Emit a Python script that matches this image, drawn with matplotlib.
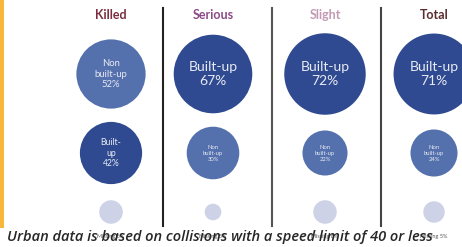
import numpy as np
import matplotlib
matplotlib.use("Agg")
import matplotlib.pyplot as plt
from matplotlib.patches import Circle, Rectangle

# data
panels = ['Killed', 'Serious', 'Slight', 'Total']
built_up = [42, 67, 72, 71]
non_built_up = [52, 30, 22, 24]
missing = [6, 3, 6, 5]

title_colors = ['#7a2e3e', '#8c4a86', '#c39ab4', '#5b2b2e']
c_built = '#2f4a90'
c_non = '#5470ad'
c_miss = '#cdd2e6'

plt.rcParams['font.family'] = ['Lato', 'DejaVu Sans']

fig = plt.figure(figsize=(4.62, 2.47), dpi=100)
ax = fig.add_axes([0, 0, 1, 1])
ax.set_xlim(0, 462)
ax.set_ylim(247, 0)
ax.axis('off')

xc = [111, 213, 325, 434]
y_top, y_mid, y_bot = 74, 153, 212
k = 4.8  # px per sqrt(percent), area scaling like an office bubble chart

# orange side bar and panel dividers
ax.add_patch(Rectangle((0, 0), 4, 228, color='#f6b73c', lw=0))
for x, c in zip([163, 272, 381], ['#222222', '#555555', '#444444']):
    ax.plot([x, x], [8, 226], color=c, lw=1.5)


def label(kind, v, big):
    if kind == 'b':
        if big:
            return 'Built-up\n%d%%' % v
        return 'Built-\nup\n%d%%' % v
    return 'Non\nbuilt-up\n%d%%' % v


for i, name in enumerate(panels):
    x = xc[i]
    ax.text(x, 15, name, ha='center', va='center', fontsize=9,
            fontweight='bold', color=title_colors[i])
    pair = [('b', built_up[i], c_built), ('n', non_built_up[i], c_non)]
    pair.sort(key=lambda p: -p[1])
    for j, (kind, v, col) in enumerate(pair):
        y = y_top if j == 0 else y_mid
        r = k * np.sqrt(v)
        ax.add_patch(Circle((x, y), r, color=col, lw=0))
        if j == 0 and kind == 'b':
            fs = 10
        elif j == 0:
            fs = 6.8
        elif kind == 'b':
            fs = 6.2
        else:
            fs = 4.2
        ax.text(x, y, label(kind, v, j == 0 and kind == 'b'), ha='center',
                va='center', fontsize=fs, color='#e8ebf4', linespacing=1.25)
    ax.add_patch(Circle((x, y_bot), k * np.sqrt(missing[i]), color=c_miss, lw=0))
    ax.text(x, 236, 'Missing %d%%' % missing[i], ha='center', va='center',
            fontsize=4, color='#555555')

ax.text(7, 237, 'Urban data is based on collisions with a speed limit of 40 or less',
        ha='left', va='center', fontsize=10.5, style='italic', fontweight='semibold',
        color='#262626', family=['Open Sans', 'DejaVu Sans'])

fig.savefig('out.png', dpi=100)
